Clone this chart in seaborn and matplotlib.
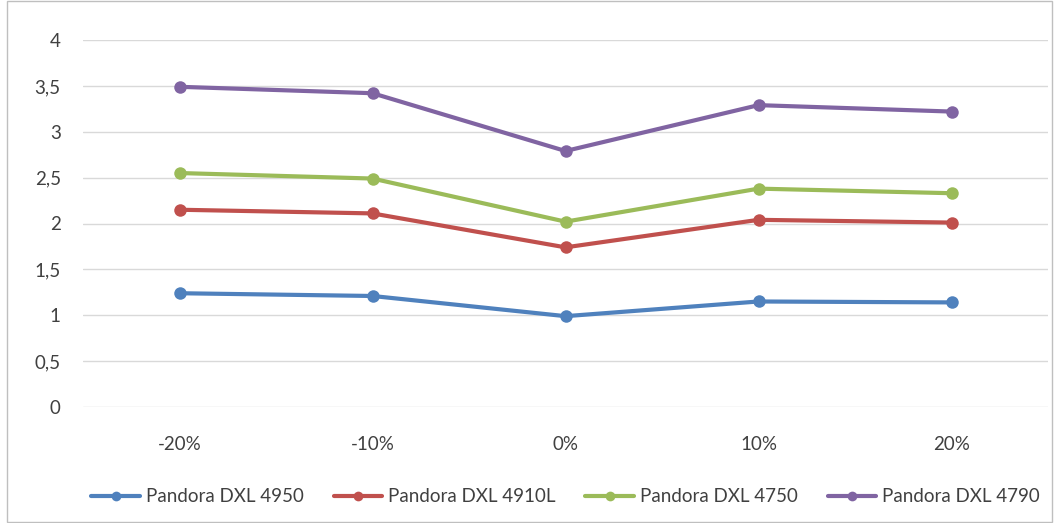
import matplotlib
matplotlib.use("Agg")
import matplotlib.pyplot as plt
import seaborn as sns
import pandas as pd
from matplotlib.ticker import FuncFormatter
from matplotlib.patches import Rectangle

categories = ["-20%", "-10%", "0%", "10%", "20%"]
series_names = ["Pandora DXL 4950", "Pandora DXL 4910L", "Pandora DXL 4750", "Pandora DXL 4790"]
dxl4950 = [1.24, 1.21, 0.99, 1.15, 1.14]
dxl4910l = [2.15, 2.11, 1.74, 2.04, 2.01]
dxl4750 = [2.55, 2.49, 2.02, 2.38, 2.33]
dxl4790 = [3.49, 3.42, 2.79, 3.29, 3.22]
y_ticks = [0, 0.5, 1, 1.5, 2, 2.5, 3, 3.5, 4]

colors = ["#4F81BD", "#C0504D", "#9BBB59", "#8064A2"]

rows = []
for name, vals in zip(series_names, [dxl4950, dxl4910l, dxl4750, dxl4790]):
    for c, v in zip(categories, vals):
        rows.append({"cat": c, "val": v, "series": name})
df = pd.DataFrame(rows)

sns.set_theme(style="white")
plt.rcParams["font.family"] = ["Lato", "DejaVu Sans"]

fig = plt.figure(figsize=(10.57, 5.23), dpi=100)
ax = fig.add_axes([83/1057, 1 - 407/523, (1048-83)/1057, (407-40)/523])

sns.lineplot(data=df, x="cat", y="val", hue="series", palette=colors,
             hue_order=series_names, marker="o", markersize=9, markeredgewidth=0,
             linewidth=3, ax=ax, sort=False, legend=True)

ax.set_xlim(-0.5, 4.5)
ax.set_ylim(0, 4)
ax.set_yticks(y_ticks)
ax.yaxis.set_major_formatter(FuncFormatter(lambda v, p: (f"{v:g}").replace(".", ",")))
ax.yaxis.grid(True, color="#D9D9D9", linewidth=1)
ax.set_axisbelow(True)
for s in ax.spines.values():
    s.set_visible(False)
ax.set_xlabel("")
ax.set_ylabel("")
ax.tick_params(axis="y", length=0, pad=16, labelsize=13.5, labelcolor="#404040")
ax.tick_params(axis="x", length=0, pad=21, labelsize=13.5, labelcolor="#404040")

handles, labels = ax.get_legend_handles_labels()
for h in handles:
    h.set_markersize(7)
ax.legend(handles, labels, loc="center", bbox_to_anchor=(0.5, (1 - 497/523 - (1 - 407/523)) / ((407-40)/523)),
          ncol=4, frameon=False, fontsize=13.5, handlelength=2.6, columnspacing=1.6,
          handletextpad=0.3, labelcolor="#404040")

fig.patches.append(Rectangle((7/1057, 0.002), (1052-7)/1057, 0.996, transform=fig.transFigure,
                             fill=False, edgecolor="#BFBFBF", linewidth=1))

fig.savefig("out.png", dpi=100)
